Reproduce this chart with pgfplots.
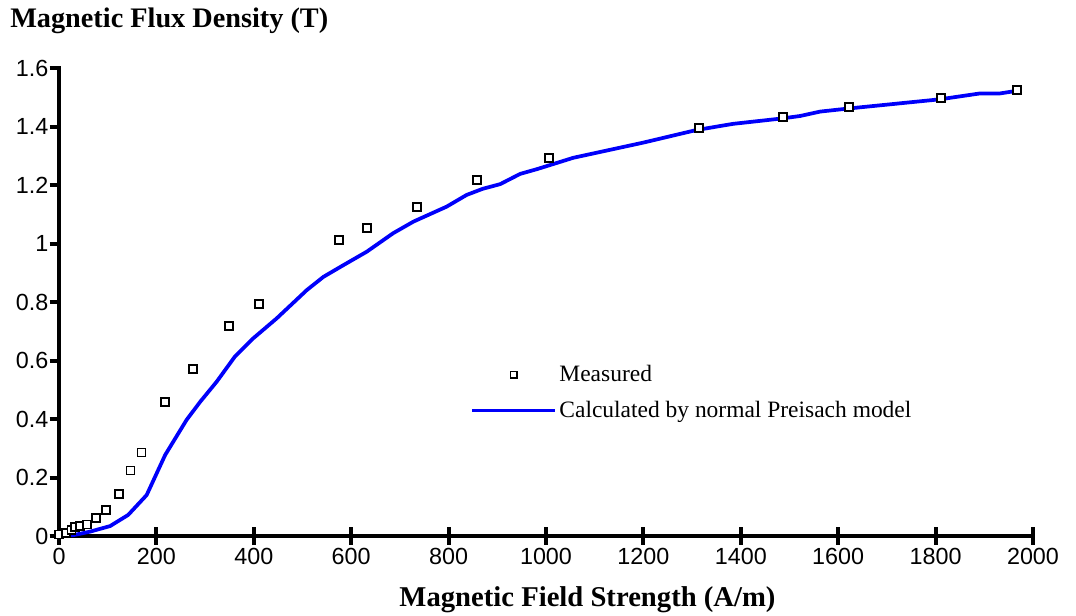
\documentclass[border=0pt]{standalone}
\usepackage{pgfplots}
\pgfplotsset{compat=1.18}
\usepackage{fontspec}
\setmainfont{Liberation Serif}
\newfontfamily\tickfont{Liberation Sans}
\definecolor{curveblue}{RGB}{0,0,250}
\pgfplotsset{
  lineimg/.style={legend image code/.code={\draw[##1] (0pt,0pt) -- (62pt,0pt);}},
  markimg/.style={legend image code/.code={\draw[##1, mark size=2.4pt] plot coordinates {(31pt,0pt)};}},
}
\begin{document}
\begin{tikzpicture}
\useasboundingbox (-44.25pt,-59.25pt) rectangle (762.75pt,402pt);
\begin{axis}[
  anchor=south west, at={(0pt,0pt)},
  scale only axis, width=730.5pt, height=351pt,
  xmin=0, xmax=2000, ymin=0, ymax=1.6,
  clip=false,
  axis lines=left,
  axis line style={-, line width=2.6pt, black},
  xtick={0,200,400,600,800,1000,1200,1400,1600,1800,2000},
  ytick={0,0.2,0.4,0.6,0.8,1,1.2,1.4,1.6},
  tick align=center,
  major tick length=0pt,
  /pgf/number format/assume math mode=true,
  /pgf/number format/1000 sep={},
  tick label style={font=\tickfont\fontsize{17.5}{20}\selectfont},
  xticklabel style={yshift=-5.5pt},
  yticklabel style={xshift=-4.5pt},
  title={\bfseries Magnetic Flux Density (T)},
  title style={font=\fontsize{21.2}{24}\selectfont, at={(rel axis cs:-0.0503,1.0684)}, anchor=base west, inner sep=0pt},
  xlabel={\bfseries Magnetic Field Strength (A/m)},
  xlabel style={font=\fontsize{21.5}{24}\selectfont, at={(rel axis cs:0.5426,-0.1517)}, anchor=base, inner sep=0pt},
  reverse legend,
  legend style={draw=none, fill=none, at={(rel axis cs:0.418,0.376)}, anchor=north west,
    font=\fontsize{17.6}{21}\selectfont, row sep=9pt},
  legend cell align=left,
]
\addplot[curveblue, line width=2.8pt, no marks, line join=round, lineimg] coordinates {
(0,0) (30,0.003) (64,0.015) (105,0.034) (142,0.072) (180,0.14) (218,0.277)
(262,0.397) (290,0.459) (324,0.528) (361,0.613) (399,0.676) (447,0.744)
(509,0.841) (543,0.886) (584,0.926) (632,0.972) (686,1.035) (728,1.075)
(796,1.126) (837,1.166) (870,1.187) (906,1.203) (947,1.238) (981,1.254)
(1056,1.293) (1200,1.345) (1309,1.388) (1384,1.409) (1487,1.428) (1522,1.436)
(1563,1.451) (1624,1.462) (1809,1.493) (1891,1.513) (1932,1.513) (1967,1.522)
};
\addlegendentry{Calculated by normal Preisach model}
\addplot[only marks, mark=square*, mark size=3pt,
  mark options={fill=white, draw=black, line width=1.2pt}, markimg] coordinates {
(0,0.005) (14,0.011) (26,0.02) (33,0.03) (43,0.034) (58,0.039) (76,0.062)
(97,0.089) (123,0.144) (147,0.224) (169,0.286) (218,0.458) (275,0.571)
(349,0.718) (411,0.793) (575,1.012) (632,1.053) (735,1.125) (858,1.217)
(1006,1.292) (1314,1.395) (1487,1.432) (1622,1.467) (1811,1.497) (1967,1.525)
};
\addlegendentry{Measured}
\pgfplotsinvokeforeach{0,200,400,600,800,1000,1200,1400,1600,1800,2000}{
  \draw[line width=3pt, black] (axis cs:#1,0) ++(0,-6.5pt) -- ++(0,13pt);
}
\pgfplotsinvokeforeach{0,0.2,0.4,0.6,0.8,1,1.2,1.4,1.6}{
  \draw[line width=3pt, black] (axis cs:0,#1) ++(-7pt,0) -- ++(8.5pt,0);
}
\draw[line width=2.6pt, black] (axis cs:0,0) ++(-7pt,0) -- (axis cs:0,0);
\end{axis}
\end{tikzpicture}
\end{document}
